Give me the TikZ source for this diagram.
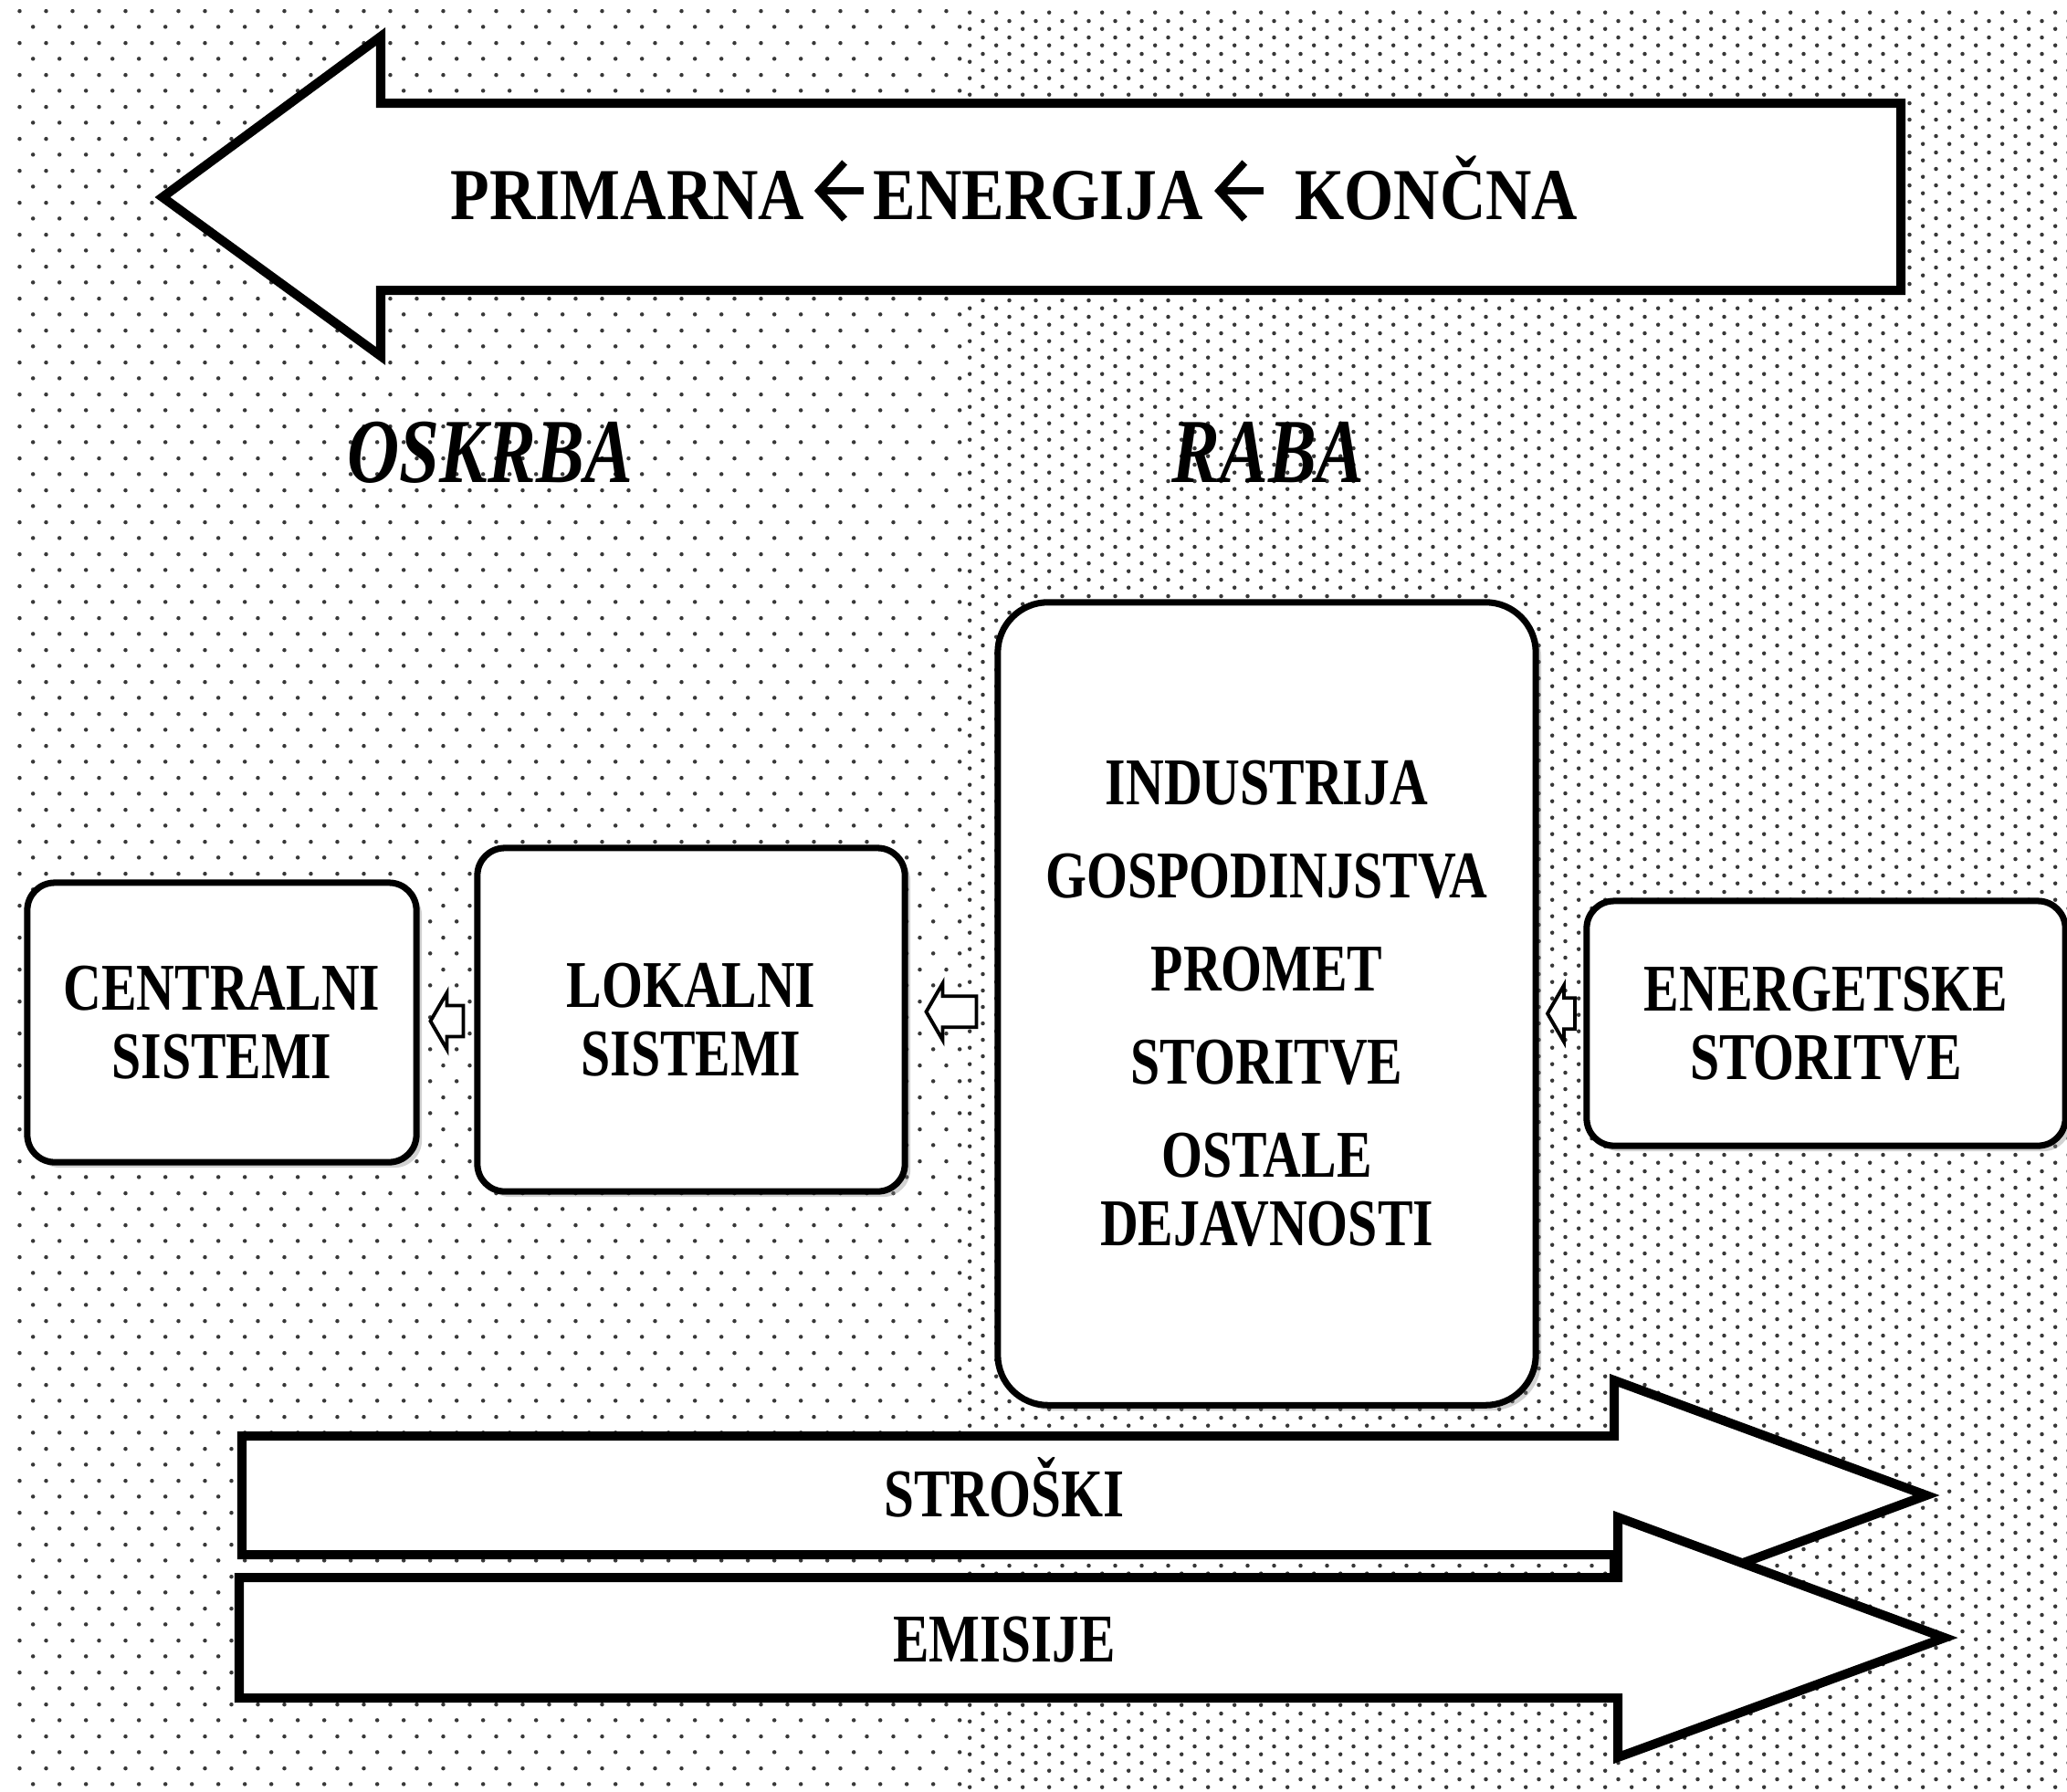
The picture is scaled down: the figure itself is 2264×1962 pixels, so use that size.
\documentclass[tikz,border=0pt]{standalone}
\usepackage{fontspec}
\setmainfont{Liberation Serif}
\newfontfamily\tnr[FakeStretch=0.79]{Liberation Serif}
\newfontfamily\tnrw[FakeStretch=0.87]{Liberation Serif}
\usetikzlibrary{patterns.meta,shadows,calc}

\pgfdeclarepattern{name=sparsedots, type=uncolored,
  bottom left={\pgfpoint{0cm}{0cm}}, top right={\pgfpoint{0.293cm}{0.352cm}},
  tile size={\pgfpoint{0.293cm}{0.352cm}},
  code={\pgfpathcircle{\pgfpoint{0.0733cm}{0.088cm}}{0.023cm}
        \pgfpathcircle{\pgfpoint{0.2198cm}{0.264cm}}{0.023cm}
        \pgfusepath{fill}}}
\pgfdeclarepattern{name=densedots, type=uncolored,
  bottom left={\pgfpoint{0cm}{0cm}}, top right={\pgfpoint{0.293cm}{0.176cm}},
  tile size={\pgfpoint{0.293cm}{0.176cm}},
  code={\pgfpathcircle{\pgfpoint{0.0733cm}{0.044cm}}{0.023cm}
        \pgfpathcircle{\pgfpoint{0.2198cm}{0.132cm}}{0.023cm}
        \pgfusepath{fill}}}

\newcommand\leftarrowglyph{\tikz[baseline=0pt, x=0.01cm, y=0.01cm]{%
  \draw[line width=2.2pt, line join=miter] (30,62) -- (2,31) -- (30,0);
  \draw[line width=2.2pt] (2,31) -- (51,31);}}

\tikzset{
  box/.style={draw, line width=2pt, fill=white, rounded corners=0.3cm,
    align=center, inner sep=0pt,
    font={\tnr\bfseries\fontsize{20.8pt}{21.3pt}\selectfont},
    drop shadow={shadow xshift=0.06cm, shadow yshift=-0.06cm, fill=black!50, opacity=0.35}},
  bigarrow/.style={draw, line width=2.85pt, fill=white, line join=miter},
  arrowtext/.style={anchor=base, inner sep=0pt,
    font={\tnr\bfseries\fontsize{21.3pt}{22pt}\selectfont}},
  sidetext/.style={anchor=base, inner sep=0pt,
    font={\tnr\bfseries\itshape\fontsize{28.5pt}{30pt}\selectfont}},
  pics/harrow/.style={code={
    \draw[line width=1.1pt, fill=white, line join=miter]
      (-#1/2,0) -- (-#1/2+18,-31) -- (-#1/2+18,-17) -- (#1/2,-17)
      -- (#1/2,17) -- (-#1/2+18,17) -- (-#1/2+18,31) -- cycle;}}
}

\begin{document}
\begin{tikzpicture}[x=0.01cm, y=-0.01cm]
\useasboundingbox (0,0) rectangle (2264,1962);
\fill[white] (0,0) rectangle (2264,1962);
\fill[pattern=sparsedots, pattern color=black!78] (15,8) rectangle (1058,1962);
\fill[pattern=densedots, pattern color=black!78] (1058,8) rectangle (2264,1962);

% top arrow
\draw[bigarrow] (178,216) -- (417,40) -- (417,113) -- (2082,113) -- (2082,318)
  -- (417,318) -- (417,390) -- cycle;
\node[anchor=base west, inner sep=0pt, font={\tnrw\bfseries\fontsize{22.8pt}{24pt}\selectfont}]
  (ptxt) at (493,240) {PRIMARNA\hspace{0.12cm}\leftarrowglyph\hspace{0.07cm}ENERGIJA\hspace{0.14cm}\leftarrowglyph\hspace{0.3cm}KONČNA};

% headings
\node[sidetext] (oskrba) at (537,528) {OSKRBA};
\node[sidetext] (raba) at (1389,528) {RABA};

% boxes
\node[box, minimum width=4.26cm, minimum height=3.06cm] (cen) at (243,1120) {CENTRALNI\\SISTEMI};
\node[box, minimum width=4.68cm, minimum height=3.76cm] (lok) at (757,1117) {LOKALNI\\SISTEMI};
\node[box, rounded corners=0.55cm, minimum width=5.89cm, minimum height=8.79cm] (ind) at (1387.5,1099.5)
  {INDUSTRIJA\\[7.7pt]GOSPODINJSTVA\\[7.7pt]PROMET\\[7.7pt]STORITVE\\[7.7pt]OSTALE\\DEJAVNOSTI};
\node[box, minimum width=5.24cm, minimum height=2.68cm] (ene) at (2000,1121) {ENERGETSKE\\STORITVE};

% small connectors
\pic at ($(cen.east)!0.5!(lok.west)$) {harrow=36};
\pic at ($(lok.east)!0.5!(ind.west)$) {harrow=55};
\pic at ($(ind.east)!0.5!(ene.west)$) {harrow=30};

% bottom arrows
\draw[bigarrow] (265,1573) -- (1768,1573) -- (1768,1512) -- (2110,1638) -- (1768,1764)
  -- (1768,1703) -- (265,1703) -- cycle;
\node[arrowtext] (strtxt) at (1100,1661) {STROŠKI};
\draw[bigarrow] (262,1728) -- (1772,1728) -- (1772,1662) -- (2130,1794) -- (1772,1925)
  -- (1772,1860) -- (262,1860) -- cycle;
\node[arrowtext] (emtxt) at (1100,1820) {EMISIJE};
\end{tikzpicture}
\end{document}
